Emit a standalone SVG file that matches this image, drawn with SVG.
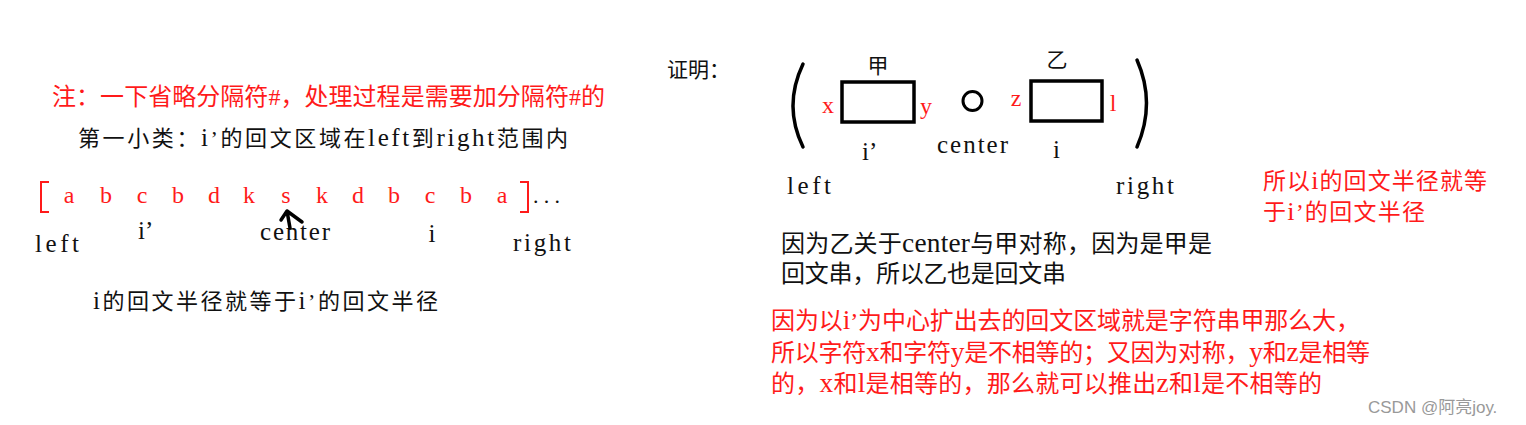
<svg xmlns="http://www.w3.org/2000/svg" width="1526" height="425" viewBox="0 0 1526 425">
<style>
text{font-family:"Liberation Serif","Noto Sans CJK SC",serif;}
.k{fill:#111;}
.r{fill:#ff1a1a;}
.m{text-anchor:middle;}
.L{font-size:1.14em;}
.box{fill:none;stroke:#000;stroke-width:3.5;}
.ln{fill:none;stroke:#000;stroke-width:3.5;stroke-linecap:round;stroke-linejoin:round;}
.br{fill:none;stroke:#ff1a1a;stroke-width:2;}
</style>
<rect width="1526" height="425" fill="#fff"/>

<g id="note">
<text class="r" x="52" y="105" font-size="24" textLength="553" lengthAdjust="spacing">注：一下省略分隔符#，处理过程是需要加分隔符#的</text>
</g>
<g id="title1">
<text class="k" x="78" y="146" font-size="22" textLength="490" lengthAdjust="spacing">第一小类：<tspan class="L">i</tspan>’的回文区域在<tspan class="L">left</tspan>到<tspan class="L">right</tspan>范围内</text>
</g>

<g id="array">
<path class="br" d="M49,182 H41 V212 H49"/>
<path class="br" d="M520,182 H528 V212 H520"/>
<g class="r m" font-size="24">
<text x="69" y="203">a</text>
<text x="106" y="203">b</text>
<text x="142" y="203">c</text>
<text x="178" y="203">b</text>
<text x="214" y="203">d</text>
<text x="249" y="203">k</text>
<text x="286" y="203">s</text>
<text x="322" y="203">k</text>
<text x="358" y="203">d</text>
<text x="394" y="203">b</text>
<text x="430" y="203">c</text>
<text x="466" y="203">b</text>
<text x="502" y="203">a</text>
</g>
<text class="k" x="533" y="203" font-size="22" textLength="27" lengthAdjust="spacing">...</text>
</g>

<g id="labels1" font-size="25">
<text class="k" x="138" y="239">i’</text>
<text class="k" x="260" y="240" textLength="70" lengthAdjust="spacing">center</text>
<text class="k m" x="432" y="242">i</text>
<text class="k" x="35" y="252" textLength="44" lengthAdjust="spacing">left</text>
<text class="k" x="513" y="251" textLength="58" lengthAdjust="spacing">right</text>
</g>

<g id="connectors">
<path class="ln" stroke-width="4" d="M287,211 L290,228 M287,211 L281,220 M287,211 L302,222"/>
</g>

<g id="conclusion1">
<text class="k" x="93" y="309" font-size="22" textLength="345" lengthAdjust="spacing"><tspan class="L">i</tspan>的回文半径就等于<tspan class="L">i</tspan>’的回文半径</text>
</g>

<g id="proof">
<text class="k" x="667" y="77" font-size="21">证明：</text>
<path class="ln" d="M803,64 Q783,106 803,147"/>
<path class="ln" d="M1137,60 Q1156,103 1137,147"/>
</g>

<g id="jia">
<rect class="box" x="842" y="82" width="72" height="40"/>
<text class="k m" x="878" y="73" font-size="21">甲</text>
<text class="r m" x="828" y="113" font-size="24">x</text>
<text class="r m" x="926" y="114" font-size="24">y</text>
<text class="k" x="862" y="160" font-size="25">i’</text>
</g>

<g id="center">
<circle cx="972.5" cy="101" r="9.5" fill="none" stroke="#000" stroke-width="3"/>
<text class="k" x="937" y="153" font-size="25" textLength="71" lengthAdjust="spacing">center</text>
</g>

<g id="yi">
<rect class="box" x="1031" y="81" width="71" height="40"/>
<text class="k m" x="1057" y="67" font-size="21">乙</text>
<text class="r m" x="1016" y="106" font-size="24">z</text>
<text class="r m" x="1113" y="111" font-size="24">l</text>
<text class="k m" x="1056.5" y="158" font-size="25">i</text>
</g>

<g id="bounds" font-size="25">
<text class="k" x="787" y="194" textLength="44" lengthAdjust="spacing">left</text>
<text class="k" x="1116" y="194" textLength="58" lengthAdjust="spacing">right</text>
</g>

<g id="result2" font-size="23">
<text class="r" x="1263" y="189" textLength="224" lengthAdjust="spacing">所以<tspan class="L">i</tspan>的回文半径就等</text>
<text class="r" x="1263" y="220" textLength="162" lengthAdjust="spacing">于<tspan class="L">i</tspan>’的回文半径</text>
</g>

<g id="reason1" font-size="24">
<text class="k" x="781" y="252" textLength="431" lengthAdjust="spacing">因为乙关于<tspan class="L">center</tspan>与甲对称，因为是甲是</text>
<text class="k" x="781" y="282" textLength="285" lengthAdjust="spacing">回文串，所以乙也是回文串</text>
</g>

<g id="reason2" font-size="24">
<text class="r" x="771" y="329" textLength="589" lengthAdjust="spacing">因为以<tspan class="L">i</tspan>’为中心扩出去的回文区域就是字符串甲那么大，</text>
<text class="r" x="771" y="361" textLength="599" lengthAdjust="spacing">所以字符<tspan class="L">x</tspan>和字符<tspan class="L">y</tspan>是不相等的；又因为对称，<tspan class="L">y</tspan>和<tspan class="L">z</tspan>是相等</text>
<text class="r" x="771" y="392" textLength="551" lengthAdjust="spacing">的，<tspan class="L">x</tspan>和<tspan class="L">l</tspan>是相等的，那么就可以推出<tspan class="L">z</tspan>和<tspan class="L">l</tspan>是不相等的</text>
</g>

<g id="watermark">
<text x="1368" y="413" font-size="17" fill="#999" style="font-family:'Liberation Sans','Noto Sans CJK SC',sans-serif">CSDN @阿亮joy.</text>
</g>
</svg>
